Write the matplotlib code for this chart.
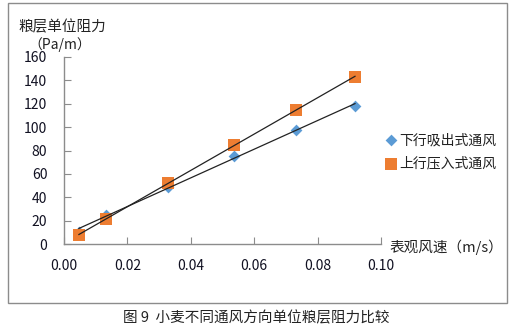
import numpy as np
import matplotlib.pyplot as plt
from matplotlib.patches import Rectangle

plt.rcParams['font.family'] = ['Noto Sans CJK SC', 'DejaVu Sans']

# Superficial air velocity (m/s)
velocity = [0.0047, 0.0133, 0.0328, 0.0536, 0.0732, 0.0918]
# Unit grain-bed resistance (Pa/m)
downward_suction = [10.5, 25.0, 49.0, 75.3, 97.5, 118.3]
upward_pressure = [7.5, 21.5, 52.4, 84.7, 114.4, 143.1]

series_names = ['下行吸出式通风', '上行压入式通风']
x_ticks = [0.00, 0.02, 0.04, 0.06, 0.08, 0.10]
x_tick_labels = ['0.00', '0.02', '0.04', '0.06', '0.08', '0.10']
y_ticks = [0, 20, 40, 60, 80, 100, 120, 140, 160]

W, H = 516, 326
fig = plt.figure(figsize=(W / 100, H / 100), dpi=100)
fig.patch.set_facecolor('white')

# outer frame of the chart area
fig.add_artist(Rectangle((8 / W, 1 - 303 / H), (507 - 8) / W, (303 - 3) / H,
                         transform=fig.transFigure, fill=False,
                         edgecolor='#8c8c8c', linewidth=1.0))

ax_l, ax_r, ax_t, ax_b = 64, 381, 57, 244
ax = fig.add_axes([ax_l / W, 1 - ax_b / H, (ax_r - ax_l) / W, (ax_b - ax_t) / H])
ax.set_xlim(0, 0.10)
ax.set_ylim(0, 160)

blue = '#5b9bd5'
orange = '#ed7d31'

x = np.array(velocity)
for y in (downward_suction, upward_pressure):
    k, b = np.polyfit(x, np.array(y), 1)
    ax.plot([x[0], x[-1]], [k * x[0] + b, k * x[-1] + b], color='#222222',
            linewidth=0.9, zorder=3)

ax.scatter(velocity, downward_suction, marker='D', s=36, color=blue,
           zorder=2, label=series_names[0], linewidths=0)
ax.scatter(velocity, upward_pressure, marker='s', s=80, color=orange,
           zorder=2, label=series_names[1], linewidths=0)

for side in ('top', 'right'):
    ax.spines[side].set_visible(False)
for side in ('left', 'bottom'):
    ax.spines[side].set_color('#8c8c8c')
    ax.spines[side].set_linewidth(1.0)

ax.set_xticks(x_ticks)
ax.set_xticklabels(x_tick_labels)
ax.set_yticks(y_ticks)
ax.tick_params(axis='both', direction='in', length=5, color='#8c8c8c',
               labelsize=10, labelcolor='#111122')
ax.tick_params(axis='x', pad=11)
ax.tick_params(axis='y', pad=12)

fig.text(18 / W, 1 - 27 / H, '粮层单位阻力', fontsize=10.5, color='#222222',
         va='center', ha='left')
fig.text(60 / W, 1 - 45 / H, '（Pa/m）', fontsize=10, color='#222222',
         va='center', ha='center')
fig.text(389 / W, 1 - 247 / H, '表观风速（m/s）', fontsize=10.5, color='#222222',
         va='center', ha='left')
fig.text(256 / W, 1 - 318 / H, '图 9  小麦不同通风方向单位粮层阻力比较',
         fontsize=10.5, color='#222222', va='center', ha='center')

leg = fig.legend(loc='center left', bbox_to_anchor=(380 / W, 1 - 152 / H),
                 frameon=False, fontsize=10, handlelength=0.6,
                 handletextpad=0.3, labelspacing=0.7, borderpad=0)
for t in leg.get_texts():
    t.set_color('#222222')

fig.savefig('out.png', dpi=100, facecolor='white')
